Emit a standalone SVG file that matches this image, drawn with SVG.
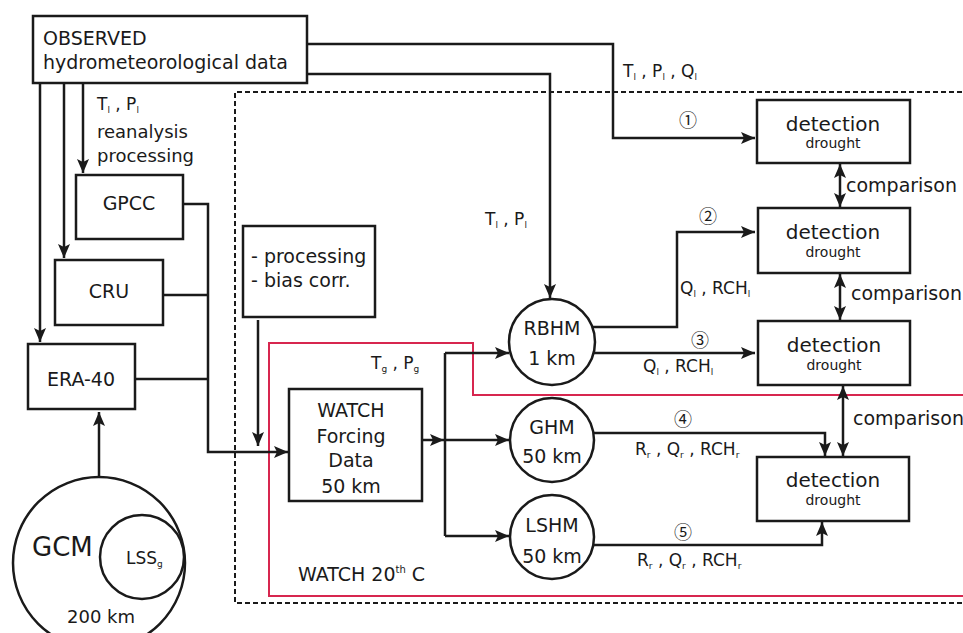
<svg xmlns="http://www.w3.org/2000/svg" width="963" height="633" viewBox="0 0 963 633">
<defs>
<marker id="ah" viewBox="0 0 14 12" refX="14" refY="6" markerWidth="14" markerHeight="12" orient="auto-start-reverse" markerUnits="userSpaceOnUse">
<path d="M0,0 L14,6 L0,12 L3,6 z" fill="#1a1a1a"/>
</marker>
</defs>
<style>
text{font-family:"DejaVu Sans","Liberation Sans",sans-serif;fill:#1a1a1a;font-size:19px}
.box{fill:#fff;stroke:#1a1a1a;stroke-width:2.5}
.circ{fill:#fff;stroke:#1a1a1a;stroke-width:2.5}
.c{fill:none;stroke:#1a1a1a;stroke-width:2.5}
.a{marker-end:url(#ah)}
.b{marker-start:url(#ah);marker-end:url(#ah)}
.lbl{font-size:17px}
.sub{font-size:9px}
.det{font-size:20px;text-anchor:middle}
.dr{font-size:14px;text-anchor:middle}
.mid{text-anchor:middle}
.num{font-size:18px;text-anchor:middle;font-family:"Noto Sans CJK SC","DejaVu Sans",sans-serif}
.big{font-size:26px}
.r18{font-size:18px}
</style>
<rect width="963" height="633" fill="#fff"/>
<g id="frames">
<path d="M970,92 H235 V603 H970" fill="none" stroke="#1a1a1a" stroke-width="2" stroke-dasharray="5,3"/>
<path d="M970,395 H473 V343 H269 V596 H970" fill="none" stroke="#d7264f" stroke-width="2"/>
<text x="298" y="581">WATCH 20<tspan style="font-size:10px" dy="-8">th</tspan><tspan dy="8"> C</tspan></text>
</g>
<g id="connectors">
<path class="c a" d="M307,44 H613 V138 H755"/>
<path class="c a" d="M307,74 H550 V298"/>
<path class="c a" d="M83,83 V173"/>
<path class="c a" d="M64,83 V258"/>
<path class="c a" d="M40,83 V342"/>
<path class="c a" d="M183,204 H208 V452 H288"/>
<path class="c" d="M163,295 H208"/>
<path class="c" d="M135,379 H208"/>
<path class="c a" d="M99,477 V412"/>
<path class="c a" d="M258,320 V446"/>
<path class="c a" d="M422,440 H444"/>
<path class="c" d="M445,353 V536"/>
<path class="c a" d="M445,353 H509"/>
<path class="c a" d="M445,440 H509"/>
<path class="c a" d="M445,536 H509"/>
<path class="c a" d="M592,327 H677 V232 H755"/>
<path class="c a" d="M594,353 H755"/>
<path class="c a" d="M593,433 H825 V456"/>
<path class="c a" d="M593,545 H822 V522"/>
<path class="c b" d="M840,164 V207"/>
<path class="c b" d="M840,274 V320"/>
<path class="c b" d="M843,386 V456"/>
<text class="lbl" x="97" y="110">T<tspan class="sub" dy="3">l</tspan><tspan dy="-3"> , P</tspan><tspan class="sub" dy="3">l</tspan></text>
<text class="r18" x="97" y="138">reanalysis</text>
<text class="r18" x="97" y="162">processing</text>
<text class="lbl" x="623" y="77">T<tspan class="sub" dy="3">l</tspan><tspan dy="-3"> , P</tspan><tspan class="sub" dy="3">l</tspan><tspan dy="-3"> , Q</tspan><tspan class="sub" dy="3">l</tspan></text>
<text class="lbl" x="485" y="225">T<tspan class="sub" dy="3">l</tspan><tspan dy="-3"> , P</tspan><tspan class="sub" dy="3">l</tspan></text>
<text class="lbl" x="371" y="369">T<tspan class="sub" dy="3">g</tspan><tspan dy="-3"> , P</tspan><tspan class="sub" dy="3">g</tspan></text>
<text class="num" x="688" y="127">①</text>
<text class="num" x="708" y="223">②</text>
<text class="num" x="700" y="347">③</text>
<text class="num" x="683" y="426">④</text>
<text class="num" x="683" y="539">⑤</text>
<text class="lbl" x="680" y="294">Q<tspan class="sub" dy="3">l</tspan><tspan dy="-3"> , RCH</tspan><tspan class="sub" dy="3">l</tspan></text>
<text class="lbl" x="643" y="372">Q<tspan class="sub" dy="3">l</tspan><tspan dy="-3"> , RCH</tspan><tspan class="sub" dy="3">l</tspan></text>
<text class="lbl" x="635" y="455">R<tspan class="sub" dy="3">r</tspan><tspan dy="-3"> , Q</tspan><tspan class="sub" dy="3">r</tspan><tspan dy="-3"> , RCH</tspan><tspan class="sub" dy="3">r</tspan></text>
<text class="lbl" x="637" y="566">R<tspan class="sub" dy="3">r</tspan><tspan dy="-3"> , Q</tspan><tspan class="sub" dy="3">r</tspan><tspan dy="-3"> , RCH</tspan><tspan class="sub" dy="3">r</tspan></text>
<text x="846" y="192">comparison</text>
<text x="851" y="300">comparison</text>
<text x="853" y="425">comparison</text>
</g>
<g id="observed">
<rect class="box" x="33" y="16" width="274" height="67"/>
<text x="43" y="45">OBSERVED</text>
<text x="43" y="69">hydrometeorological data</text>
</g>
<g id="gpcc">
<rect class="box" x="76" y="175" width="107" height="64"/>
<text class="mid" x="129" y="210">GPCC</text>
</g>
<g id="cru">
<rect class="box" x="55" y="260" width="108" height="65"/>
<text class="mid" x="109" y="298">CRU</text>
</g>
<g id="era40">
<rect class="box" x="28" y="344" width="107" height="65"/>
<text class="mid" x="81" y="386">ERA-40</text>
</g>
<g id="gcm">
<circle class="circ" cx="99" cy="563" r="86"/>
<circle class="circ" cx="142" cy="557" r="42"/>
<text class="big" x="32" y="556">GCM</text>
<text class="lbl" x="126" y="564">LSS<tspan class="sub" dy="3">g</tspan></text>
<text class="r18" x="67" y="623">200 km</text>
</g>
<g id="processing">
<rect class="box" x="243" y="226" width="132" height="91"/>
<text x="251" y="263">- processing</text>
<text x="251" y="287">- bias corr.</text>
</g>
<g id="watch">
<rect class="box" x="289" y="389" width="133" height="112"/>
<text class="mid" x="351" y="417">WATCH</text>
<text class="mid" x="351" y="443">Forcing</text>
<text class="mid" x="351" y="467">Data</text>
<text class="mid" x="351" y="493">50 km</text>
</g>
<g id="rbhm">
<circle class="circ" cx="552" cy="342" r="43"/>
<text class="mid" x="552" y="335">RBHM</text>
<text class="mid" x="552" y="365">1 km</text>
</g>
<g id="ghm">
<circle class="circ" cx="552" cy="440" r="42"/>
<text class="mid" x="552" y="434">GHM</text>
<text class="mid" x="552" y="463">50 km</text>
</g>
<g id="lshm">
<circle class="circ" cx="552" cy="537" r="42"/>
<text class="mid" x="552" y="532">LSHM</text>
<text class="mid" x="552" y="563">50 km</text>
</g>
<g id="det1">
<rect class="box" x="757" y="100" width="153" height="63"/>
<text class="det" x="833" y="131">detection</text>
<text class="dr" x="833" y="148">drought</text>
</g>
<g id="det2">
<rect class="box" x="758" y="208" width="152" height="65"/>
<text class="det" x="833" y="239">detection</text>
<text class="dr" x="833" y="257">drought</text>
</g>
<g id="det3">
<rect class="box" x="758" y="321" width="152" height="64"/>
<text class="det" x="834" y="352">detection</text>
<text class="dr" x="834" y="370">drought</text>
</g>
<g id="det4">
<rect class="box" x="757" y="457" width="152" height="64"/>
<text class="det" x="833" y="487">detection</text>
<text class="dr" x="833" y="505">drought</text>
</g>
</svg>
